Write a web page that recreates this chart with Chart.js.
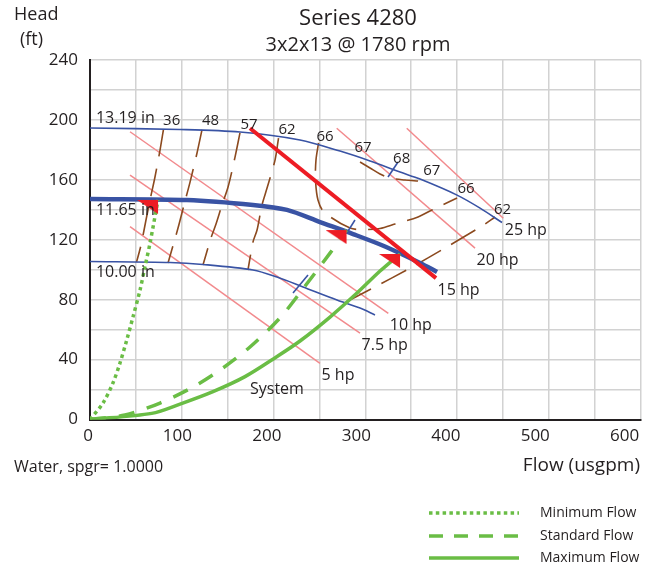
<!DOCTYPE html>
<html>
<head>
<meta charset="utf-8">
<title>Series 4280</title>
<script src="https://cdn.jsdelivr.net/npm/chart.js@4.4.1/dist/chart.umd.min.js"></script>
<style>
  html, body { margin: 0; padding: 0; background: #fff; }
  #wrap { width: 655px; height: 571px; }
</style>
</head>
<body>
<div id="wrap"><canvas id="pump" width="655" height="571"></canvas></div>
<script>
// Pump curve sheet, Series 4280 3x2x13 @ 1780 rpm
// all values: [flow usgpm, head ft]

const flowTicks = [0, 100, 200, 300, 400, 500, 600];
const headTicks = [0, 40, 80, 120, 160, 200, 240];

// ── impeller diameters ───────────────────────────────────
const impNames = ['13.19 in', '11.65 in', '10.00 in'];
const imp1319 = [[0,194.6],[98.1,193.6],[163.4,191.9],[228.8,186.6],[272.4,179.2],[305.1,172.6],[337.8,165.2],[359.6,160.5],[399.9,149.8],[425,141.1],[448.9,131.5]];
const imp1165 = [[0,147.2],[105.7,146.5],[177.6,143.2],[214.6,139.9],[250.6,131.8],[286.6,123.8],[321.4,115.5],[359.6,104.5],[378.1,98.5]];
const imp1000 = [[0,105.5],[87.2,104.8],[123.1,103.5],[177.6,99.8],[203.7,95.1],[232.1,88.5],[269.1,79.8],[294.2,74.4],[310.5,69.8]];
const impLabelAt = [[6.5,201.3],[6.5,139.9],[6.5,98.5]];

// best efficiency marks
const bep1319 = [[324.7,161.9],[335.6,171.9]];
const bep1165 = [[281.1,125.8],[288.7,133.2]];
const bep1000 = [[221.2,84.4],[237.5,96.4]];

// ── efficiency contours (%) ──────────────────────────────
const eff36 = [[80.1,193.9],[76.3,179.9],[70.8,161.9],[65.4,146.5],[61.0,133.2],[55.6,116.5],[50.7,105.1]];
const eff48 = [[122.0,193.3],[116.6,177.9],[109.0,158.5],[102.4,143.2],[95.9,127.8],[85.0,104.5]];
const eff57 = [[163.4,191.3],[158.0,175.2],[150.4,155.2],[143.8,143.2],[137.3,130.5],[131.8,121.2],[123.1,103.2]];
const eff62a = [[205.4,187.9],[201.6,173.2],[192.9,154.5],[187.4,143.2],[182.0,126.5],[177.6,118.5],[172.1,99.8]];
const eff66 = [[249.0,184.6],[246.2,173.2],[245.7,159.9],[248.4,146.5],[255.0,138.5],[283.3,127.8],[299.6,126.8],[316.0,127.5],[332.3,130.5],[357.4,135.2],[372.6,139.9],[399.9,147.9]];
const eff67 = [[294.2,171.9],[305.1,167.9],[316.0,163.9],[326.9,161.2],[343.2,159.9],[357.4,159.2]];
const eff62b = [[278.9,78.4],[308.3,87.8],[348.7,101.1],[386.8,114.5],[427.1,129.2],[441.3,135.2]];
const effLabels = ['36', '48', '57', '62', '66', '67', '68', '67', '66', '62'];
const effLabelAt = [[89,199.2],[131.3,199.6],[173.2,196.6],[214.6,193.2],[256,188.6],[297.5,181.6],[339.6,173.9],[372.3,165.9],[409.7,153.9],[449.4,139.9]];

// ── motor power lines ────────────────────────────────────
const hpNames = ['5 hp', '7.5 hp', '10 hp', '15 hp', '20 hp', '25 hp'];
const hp5 = [[43.6,128.7],[250.6,37.5]];
const hp7 = [[43.6,163.2],[294.2,57.6]];
const hp10 = [[43.6,192.1],[325.0,70.9]];
const hp15 = [[174.3,194.4],[377.0,94.4]];
const hp20 = [[268.8,194.4],[419.5,114.4]];
const hp25 = [[345.1,194.4],[450.3,134.4]];

// ── system curves ────────────────────────────────────────
const flowNames = ['Minimum Flow', 'Standard Flow', 'Maximum Flow'];
const minFlow = [[0,0],[14.2,11],[25,24.4],[32.7,37.7],[40,53],[46.9,68.6],[54.5,86.4],[59.9,102],[65.4,117.8],[74.1,146.6]];
const stdFlow = [[0,0],[38.1,3],[76.3,11],[114.4,22.4],[144.9,34.4],[174.3,48.4],[207,67.8],[231,86.4],[261.5,111.1],[279.5,126.5]];
const maxFlow = [[0,0],[67.2,4.1],[98.1,10.3],[134,18.6],[168.9,28.6],[203.4,41.9],[228.8,52.4],[261.5,68.4],[290.9,84.4],[316,99.1],[337.8,110.5]];
const systemLabelAt = [174.3, 20.4];

// ── styles ───────────────────────────────────────────────
const FONT = "'Open Sans', sans-serif";
const INK = '#231f20';
const GRID = '#d2d2d2';
const BLUE = '#3953a4';
const RED = '#ed1c24';
const PINK = '#f28a8d';
const BROWN = '#8c4a1f';
const GREEN = '#6abd45';

const pts = arr => arr.map(p => ({ x: p[0], y: p[1] }));

function line(data, color, width, extra) {
  return Object.assign({
    data: pts(data), showLine: true, borderColor: color, borderWidth: width,
    pointRadius: 0, tension: 0.3, fill: false
  }, extra || {});
}

// flag-shaped marker (right angle at top-right = the data point)
function flagMarker(w, h, color) {
  const c = document.createElement('canvas');
  c.width = w * 2; c.height = h * 2;
  const g = c.getContext('2d');
  g.fillStyle = color;
  g.beginPath();
  g.moveTo(0, h); g.lineTo(w, h); g.lineTo(w, h * 2);
  g.closePath(); g.fill();
  return c;
}

const hpSets = [hp5, hp7, hp10, hp15, hp20, hp25];
const datasets = [];

// pink hp lines, 15 hp (selected motor) in red
hpSets.forEach((d, i) => {
  if (i === 3) datasets.push(line(d, RED, 4, { tension: 0, order: 2 }));
  else datasets.push(line(d, PINK, 1.5, { tension: 0, order: 6 }));
});

[eff36, eff48, eff57, eff62a, eff66, eff67, eff62b].forEach(d => {
  datasets.push(line(d, BROWN, 1.6, { borderDash: [28, 12], order: 5 }));
});

datasets.push(line(imp1319, BLUE, 1.6, { order: 3 }));
datasets.push(line(imp1165, BLUE, 4.5, { order: 3 }));
datasets.push(line(imp1000, BLUE, 1.6, { order: 3 }));
[bep1319, bep1165, bep1000].forEach(d => datasets.push(line(d, BLUE, 1.6, { tension: 0, order: 3 })));

datasets.push(line(minFlow, GREEN, 3.5, { borderDash: [3.5, 3.5], order: 1 }));
datasets.push(line(stdFlow, GREEN, 3.5, { borderDash: [16, 13], order: 1 }));
datasets.push(line(maxFlow, GREEN, 3.5, { order: 1 }));

// duty markers at the end of each flow curve
const ends = [minFlow, stdFlow, maxFlow].map(a => a[a.length - 1]);
datasets.push({
  data: pts(ends), showLine: false, pointStyle: flagMarker(21, 14, RED),
  pointRadius: 10, order: 0
});

function text(ctx, s, x, y, size, align) {
  ctx.font = size + 'px ' + FONT;
  ctx.textAlign = align || 'left';
  ctx.textBaseline = 'middle';
  ctx.fillText(s, x, y);
}

const sheetText = {
  id: 'sheetText',
  afterDraw(chart) {
    const { ctx, scales: { x, y } } = chart;
    const px = v => x.getPixelForValue(v);
    const py = v => y.getPixelForValue(v);
    ctx.save();
    ctx.fillStyle = INK;

    impNames.forEach((s, i) => text(ctx, s, px(impLabelAt[i][0]), py(impLabelAt[i][1]), 16));
    effLabels.forEach((s, i) => text(ctx, s, px(effLabelAt[i][0]), py(effLabelAt[i][1]), 15, 'center'));
    hpSets.forEach((d, i) => {
      const e = d[d.length - 1];
      text(ctx, hpNames[i], px(e[0]) + 1.5, py(e[1]) + 12, 16);
    });
    text(ctx, 'System', px(systemLabelAt[0]), py(systemLabelAt[1]), 16);

    // headings
    text(ctx, 'Series 4280', 358, 19, 22, 'center');
    text(ctx, '3x2x13 @ 1780 rpm', 358, 45, 20, 'center');
    text(ctx, 'Head', 14, 15, 18);
    text(ctx, '(ft)', 20, 40, 18);
    text(ctx, 'Water, spgr= 1.0000', 14, 467, 16);
    text(ctx, 'Flow (usgpm)', 640, 466, 19, 'right');

    // legend
    const dashes = [[3.5, 3.3], [14, 11], []];
    [513, 536, 558].forEach((ly, i) => {
      ctx.strokeStyle = GREEN;
      ctx.lineWidth = 3.5;
      ctx.setLineDash(dashes[i]);
      ctx.beginPath();
      ctx.moveTo(429, ly); ctx.lineTo(519, ly);
      ctx.stroke();
      ctx.setLineDash([]);
      text(ctx, flowNames[i], 540, ly, 14);
    });
    ctx.restore();
  }
};

new Chart(document.getElementById('pump'), {
  type: 'scatter',
  data: { datasets },
  plugins: [sheetText],
  options: {
    responsive: false,
    animation: false,
    devicePixelRatio: 1,
    layout: { padding: { left: 0, right: 14.3, top: 60, bottom: 0 } },
    plugins: { legend: { display: false }, tooltip: { enabled: false } },
    scales: {
      x: {
        type: 'linear', position: 'bottom', weight: 0, min: 0, max: 600,
        ticks: { display: false, stepSize: 50 },
        grid: { color: GRID, lineWidth: 1.5, drawTicks: false },
        border: { color: INK, width: 2 },
        afterFit(s) { s.height = 0; }
      },
      // tick labels of the sheet sit slightly left of their gridlines
      xl: {
        type: 'linear', position: 'bottom', weight: 1, min: 2.24, max: 617.9,
        afterBuildTicks(s) { s.ticks = flowTicks.map(v => ({ value: v })); },
        ticks: { font: { family: FONT, size: 17 }, color: INK, padding: 6, autoSkip: false, maxRotation: 0 },
        grid: { display: false, drawTicks: false },
        border: { display: false },
        afterFit(s) { s.height = 151.5; }
      },
      y: {
        type: 'linear', min: 0, max: 240,
        ticks: {
          stepSize: 20, padding: 12, color: INK, font: { family: FONT, size: 17 },
          callback: v => headTicks.includes(v) ? v : ''
        },
        grid: { color: GRID, lineWidth: 1.5, drawTicks: false },
        border: { color: INK, width: 2 },
        afterFit(s) { s.width = 90; }
      }
    }
  }
});
</script>
</body>
</html>
